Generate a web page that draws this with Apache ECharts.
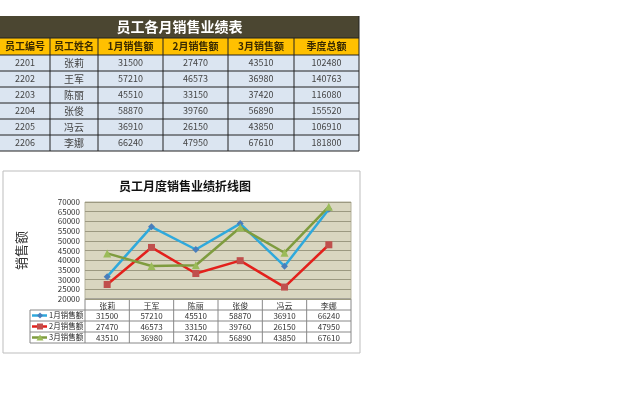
<!DOCTYPE html>
<html>
<head>
<meta charset="utf-8">
<script src="https://cdn.jsdelivr.net/npm/echarts@6/dist/echarts.min.js"></script>
<style>
html, body { margin: 0; padding: 0; background: #fff; }
#main { width: 640px; height: 418px; }
</style>
</head>
<body>
<div id="main"></div>
<script>
// 表格数据
var tableTitle = '员工各月销售业绩表';
var headers = ['员工编号', '员工姓名', '1月销售额', '2月销售额', '3月销售额', '季度总额'];
var ids = ['2201', '2202', '2203', '2204', '2205', '2206'];
var names = ['张莉', '王军', '陈丽', '张俊', '冯云', '李娜'];
var jan = [31500, 57210, 45510, 58870, 36910, 66240];
var feb = [27470, 46573, 33150, 39760, 26150, 47950];
var mar = [43510, 36980, 37420, 56890, 43850, 67610];
var totals = [102480, 140763, 116080, 155520, 106910, 181800];

var seriesNames = ['1月销售额', '2月销售额', '3月销售额'];
var chartTitle = '员工月度销售业绩折线图';
var yName = '销售额';

var font = '"Noto Sans CJK SC", "Liberation Sans", sans-serif';
var chart = echarts.init(document.getElementById('main'));
var g = [];

// 上方表格
var colX = [0, 50, 98, 163, 228, 294, 359];
var tTop = 16, titleH = 22, headH = 17, rowH = 16;
var headY = tTop + titleH, bodyY = headY + headH;
var tRight = colX[colX.length - 1];
g.push({ type: 'rect', shape: { x: 0, y: tTop, width: tRight, height: titleH }, style: { fill: '#4b4631' } });
g.push({ type: 'text', x: tRight / 2, y: tTop + titleH / 2, style: { text: tableTitle, fill: '#fff', font: 'bold 14px ' + font, align: 'center', verticalAlign: 'middle' } });
g.push({ type: 'rect', shape: { x: 0, y: headY, width: tRight, height: headH }, style: { fill: '#ffc000' } });
g.push({ type: 'rect', shape: { x: 0, y: bodyY, width: tRight, height: rowH * ids.length }, style: { fill: '#dbe5f1' } });
headers.forEach(function (h, i) {
  g.push({ type: 'text', x: (colX[i] + colX[i + 1]) / 2, y: headY + headH / 2, style: { text: h, fill: '#3a2a00', font: 'bold 10px ' + font, align: 'center', verticalAlign: 'middle' } });
});
ids.forEach(function (id, r) {
  var cells = [id, names[r], jan[r], feb[r], mar[r], totals[r]];
  cells.forEach(function (c, i) {
    g.push({ type: 'text', x: (colX[i] + colX[i + 1]) / 2, y: bodyY + rowH * r + rowH / 2, style: { text: String(c), fill: '#444', font: (i === 1 ? '10px ' : '9px ') + font, align: 'center', verticalAlign: 'middle' } });
  });
});
var tBottom = bodyY + rowH * ids.length;
for (var r = 0; r <= ids.length; r++) {
  g.push({ type: 'line', shape: { x1: 0, y1: bodyY + rowH * r, x2: tRight, y2: bodyY + rowH * r }, style: { stroke: '#222', lineWidth: 1 } });
}
g.push({ type: 'line', shape: { x1: 0, y1: headY, x2: tRight, y2: headY }, style: { stroke: '#222', lineWidth: 1 } });
colX.forEach(function (x, i) {
  if (i === 0) return;
  g.push({ type: 'line', shape: { x1: x, y1: headY, x2: x, y2: tBottom }, style: { stroke: '#222', lineWidth: 1 } });
});
g.push({ type: 'line', shape: { x1: tRight, y1: tTop, x2: tRight, y2: headY }, style: { stroke: '#222', lineWidth: 1 } });

// 图表外框
var box = { x: 3, y: 171, w: 357, h: 182 };
g.push({ type: 'rect', z: -1, shape: { x: box.x, y: box.y, width: box.w, height: box.h }, style: { fill: '#fff', stroke: '#bdbdbd', lineWidth: 1 } });

// 图表下方数据表
var pL = 85, pR = 351, pT = 202, pB = 299;
var cw = (pR - pL) / names.length;
var dRowH = 11, legL = 30;
var dTop = pB, dBot = pB + dRowH * 4;
g.push({ type: 'line', shape: { x1: pL, y1: dTop, x2: pR, y2: dTop }, style: { stroke: '#888', lineWidth: 1 } });
for (var k = 1; k <= 3; k++) {
  g.push({ type: 'line', shape: { x1: legL, y1: dTop + dRowH * k, x2: pR, y2: dTop + dRowH * k }, style: { stroke: '#888', lineWidth: 1 } });
}
g.push({ type: 'line', shape: { x1: legL, y1: dBot, x2: pR, y2: dBot }, style: { stroke: '#888', lineWidth: 1 } });
g.push({ type: 'line', shape: { x1: legL, y1: dTop + dRowH, x2: legL, y2: dBot }, style: { stroke: '#888', lineWidth: 1 } });
for (var c = 0; c <= names.length; c++) {
  g.push({ type: 'line', shape: { x1: pL + cw * c, y1: dTop, x2: pL + cw * c, y2: dBot }, style: { stroke: '#888', lineWidth: 1 } });
}
var lineColors = ['#2fa9dc', '#e3211c', '#7f9c3f'];
var markColors = ['#4a7ebb', '#c0504d', '#9bbb59'];
var symbols = ['diamond', 'rect', 'triangle'];
[jan, feb, mar].forEach(function (arr, s) {
  var cy = dTop + dRowH * (s + 1) + dRowH / 2;
  g.push({ type: 'line', shape: { x1: legL + 2, y1: cy, x2: legL + 17, y2: cy }, style: { stroke: lineColors[s], lineWidth: 2.5 } });
  g.push({ type: 'text', x: legL + 19, y: cy, style: { text: seriesNames[s], fill: '#222', font: '7.5px ' + font, verticalAlign: 'middle' } });
  arr.forEach(function (v, i) {
    g.push({ type: 'text', x: pL + cw * (i + 0.5), y: cy, style: { text: String(v), fill: '#333', font: '8px ' + font, align: 'center', verticalAlign: 'middle' } });
  });
});
// 图例标记
var legMarks = [
  { type: 'polygon', shape: { points: [[legL + 10, 0], [legL + 13, 3], [legL + 10, 6], [legL + 7, 3]] } },
  { type: 'rect', shape: { x: legL + 7, y: 0, width: 6, height: 6 } },
  { type: 'polygon', shape: { points: [[legL + 10, 0], [legL + 13.5, 6], [legL + 6.5, 6]] } }
];
legMarks.forEach(function (m, s) {
  m.y = dTop + dRowH * (s + 1) + dRowH / 2 - 3;
  m.style = { fill: markColors[s] };
  m.z = 10;
  g.push(m);
});

chart.setOption({
  animation: false,
  title: {
    text: chartTitle, left: 180, top: 175, textAlign: 'center',
    textStyle: { fontFamily: font, fontSize: 12, fontWeight: 'bold', color: '#111' }
  },
  grid: { left: pL, right: 640 - pR, top: pT, bottom: 418 - pB, show: true, backgroundColor: '#d9d6c0', borderColor: '#b5b29c', borderWidth: 1 },
  xAxis: {
    type: 'category', data: names, boundaryGap: true,
    axisLine: { show: false }, axisTick: { show: false },
    axisLabel: { margin: 3, fontSize: 8, color: '#333', fontFamily: font }
  },
  yAxis: {
    type: 'value', min: 20000, max: 70000, interval: 5000,
    name: yName, nameLocation: 'middle', nameGap: 57, nameRotate: 90,
    nameTextStyle: { fontSize: 13, color: '#333', fontFamily: font },
    axisLine: { show: false }, axisTick: { show: false },
    axisLabel: { fontSize: 8, color: '#333', margin: 5, fontFamily: font, formatter: function (v) { return String(v); } },
    splitLine: { lineStyle: { color: '#9c9981', width: 1 } }
  },
  series: [jan, feb, mar].map(function (arr, s) {
    return {
      type: 'line', name: seriesNames[s], data: arr,
      symbol: symbols[s], symbolSize: s === 2 ? 8 : 7,
      lineStyle: { color: lineColors[s], width: 2.5 },
      itemStyle: { color: markColors[s] }
    };
  }),
  graphic: g
});
</script>
</body>
</html>
